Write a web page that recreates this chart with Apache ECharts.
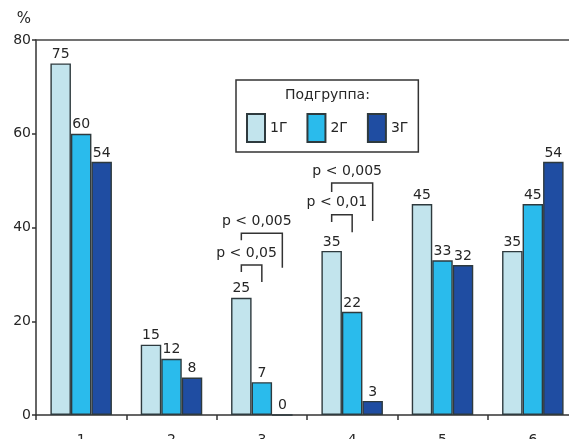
<!DOCTYPE html>
<html>
<head>
<meta charset="utf-8">
<script src="https://cdn.jsdelivr.net/npm/echarts@6/dist/echarts.min.js"></script>
<style>
  html, body { margin: 0; padding: 0; background: #ffffff; }
  #chart { width: 569px; height: 439px; }
</style>
</head>
<body>
<div id="chart"></div>
<script>
// Categories and percentages per subgroup
const categories = ['1', '2', '3', '4', '5', '6'];
const seriesNames = ['1Г', '2Г', '3Г'];
const group1 = [75, 15, 25, 35, 45, 35];
const group2 = [60, 12, 7, 22, 33, 45];
const group3 = [54, 8, 0, 3, 32, 54];
const yTicks = [0, 20, 40, 60, 80];

// Significance brackets: category index, first and second bar, bracket level,
// where each leg ends (in %), and the annotation text
const brackets = [
  [2, 0, 1, 32.0, 30.5, 28.4, 'p < 0,05'],
  [2, 0, 2, 38.8, 37.3, 31.4, 'p < 0,005'],
  [3, 0, 1, 42.7, 41.2, 39.0, 'p < 0,01'],
  [3, 0, 2, 49.5, 47.6, 41.4, 'p < 0,005']
];

const colors = ['#c2e4ed', '#2abbec', '#1f4da2'];
const edge = '#2e3a3e';
const font = '"DejaVu Sans", sans-serif';
const FS = 14;
const BAR_W = 20.5;

const chart = echarts.init(document.getElementById('chart'), null, { renderer: 'canvas' });

function barSeries(name, data, i) {
  return {
    name: name,
    type: 'bar',
    data: data,
    barWidth: BAR_W,
    barGap: '0%',
    itemStyle: { color: colors[i], borderColor: edge, borderWidth: 1.4 },
    label: {
      show: true,
      position: 'top',
      distance: 2,
      fontFamily: font,
      fontSize: FS,
      color: '#262626'
    },
    emphasis: { disabled: true },
    z: 2
  };
}

const option = {
  animation: false,
  backgroundColor: '#ffffff',
  grid: { left: 36, top: 40, right: -9, bottom: 24, containLabel: false, outerBoundsMode: 'none' },
  legend: {
    data: seriesNames,
    left: 236,
    top: 80,
    orient: 'horizontal',
    padding: [33, 10, 9, 10],
    borderColor: '#333',
    borderWidth: 1.5,
    itemWidth: 18,
    itemHeight: 28,
    itemGap: 19,
    icon: 'rect',
    selectedMode: false,
    textStyle: { fontFamily: font, fontSize: FS, color: '#262626' }
  },
  graphic: [
    {
      type: 'text',
      left: 285,
      top: 88,
      style: { text: 'Подгруппа:', font: FS + 'px ' + font, fill: '#262626' }
    }
  ],
  xAxis: [
    {
      type: 'category',
      data: categories,
      boundaryGap: true,
      axisLine: { show: true, lineStyle: { color: '#333', width: 1.5 } },
      axisTick: { show: true, length: 5, lineStyle: { color: '#333', width: 1.5 } },
      axisLabel: { margin: 18, fontFamily: font, fontSize: FS, color: '#262626' }
    },
    {
      type: 'category',
      data: categories,
      position: 'top',
      axisLine: { show: true, lineStyle: { color: '#444', width: 1.5 } },
      axisTick: { show: false },
      axisLabel: { show: false }
    }
  ],
  yAxis: {
    type: 'value',
    min: yTicks[0],
    max: yTicks[yTicks.length - 1],
    interval: yTicks[1] - yTicks[0],
    name: '%',
    nameLocation: 'end',
    nameGap: 13,
    nameTextStyle: { fontFamily: font, fontSize: 15, color: '#262626', align: 'right', padding: [0, 5, 0, 0] },
    axisLine: { show: true, lineStyle: { color: '#333', width: 1.5 } },
    axisTick: { show: true, length: 4, lineStyle: { color: '#333', width: 1.5 } },
    axisLabel: { margin: 5, fontFamily: font, fontSize: FS, color: '#262626' },
    splitLine: { show: false }
  },
  series: [
    barSeries(seriesNames[0], group1, 0),
    barSeries(seriesNames[1], group2, 1),
    barSeries(seriesNames[2], group3, 2),
    {
      type: 'custom',
      name: 'brackets',
      data: brackets,
      silent: true,
      z: 5,
      encode: { x: 0, y: 3 },
      renderItem: function (params, api) {
        const cat = api.value(0);
        const a = api.value(1);
        const b = api.value(2);
        const centre = api.coord([cat, api.value(3)]);
        const xa = centre[0] + (a - 1) * BAR_W;
        const xb = centre[0] + (b - 1) * BAR_W;
        const yTop = centre[1];
        const yA = api.coord([cat, api.value(4)])[1];
        const yB = api.coord([cat, api.value(5)])[1];
        const text = brackets[params.dataIndex][6];
        return {
          type: 'group',
          children: [
            {
              type: 'polyline',
              shape: { points: [[xa, yA], [xa, yTop], [xb, yTop], [xb, yB]] },
              style: { stroke: '#333', lineWidth: 1.5, fill: null }
            },
            {
              type: 'text',
              x: (xa + xb) / 2 - 5,
              y: yTop - 5,
              style: {
                text: text,
                font: FS + 'px ' + font,
                fill: '#262626',
                align: 'center',
                verticalAlign: 'bottom'
              }
            }
          ]
        };
      }
    }
  ]
};

chart.setOption(option);
</script>
</body>
</html>
